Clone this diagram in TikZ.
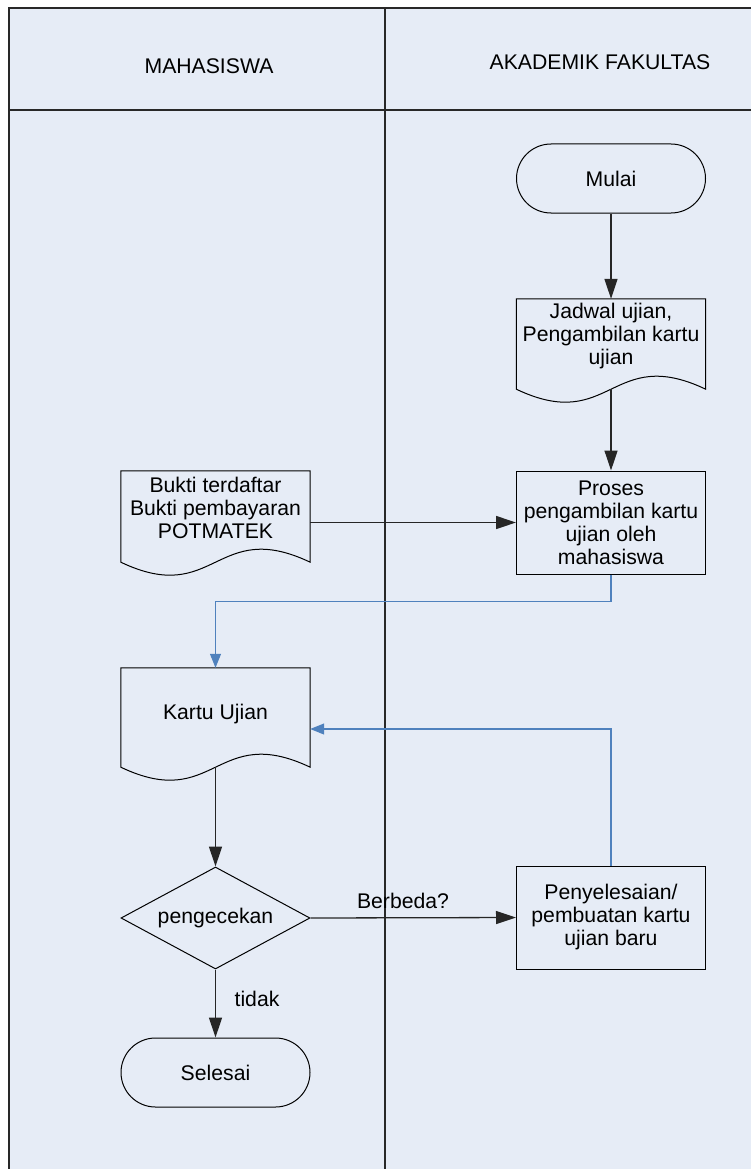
\documentclass[tikz,border=0pt]{standalone}
\usepackage{fontspec}
\setmainfont{Liberation Sans}
\usetikzlibrary{shapes.geometric,shapes.misc,arrows.meta,calc}
\definecolor{lanebg}{RGB}{230,236,246}
\definecolor{flowblue}{RGB}{79,129,189}
\definecolor{frameline}{RGB}{40,40,40}
\newcommand\flowdocshape[1]{%
  \draw[shapeline] (#1.south west) -- (#1.north west) -- (#1.north east) -- (#1.south east)
    .. controls ($(#1.south)+(0,-45)$) and ($(#1.south)+(0,45)$) .. (#1.south west) -- cycle;}
\begin{document}
\begin{tikzpicture}[x=1pt,y=-1pt,
  every node/.style={font=\fontsize{21.2}{23}\selectfont, align=center, inner sep=0pt},
  shapeline/.style={draw=black, line width=1pt},
  procbox/.style={shapeline, rectangle, minimum width=189pt, minimum height=103pt},
  docframe/.style={rectangle, minimum width=189pt},
  terminal/.style={shapeline, rounded rectangle, minimum width=189pt, minimum height=69pt},
  decision/.style={shapeline, diamond, aspect=1.853, minimum width=189pt, minimum height=102pt},
  flow/.style={draw=black!85, line width=1.3pt, -{Triangle[length=20pt,width=13pt]}},
  backflow/.style={draw=flowblue, line width=1.1pt, -{Triangle[length=14pt,width=11pt]}},
  laneline/.style={draw=frameline, line width=1.1pt}
]
\useasboundingbox (0,0) rectangle (751,1169);
\fill[white] (0,0) rectangle (751,1169);
\fill[lanebg] (9,8) rectangle (751,1169);
\draw[laneline] (751,8) -- (9,8) -- (9,1169);
\draw[laneline] (9,110) -- (751,110);
\draw[laneline] (385,8) -- (385,1169);

\node (hmhs) at (209,66) {MAHASISWA};
\node (hakad) at (600,62) {AKADEMIK FAKULTAS};

\node[terminal] (mulai) at (611,178.5) {Mulai};

\node[docframe, minimum height=90pt] (jadwal) at (611,344) {};
\flowdocshape{jadwal}
\node (jadwaltxt) at (611,336) {Jadwal ujian,\\Pengambilan kartu\\ujian};

\node[procbox] (proses) at (611,522.5) {Proses\\pengambilan kartu\\ujian oleh\\mahasiswa};

\node[docframe, minimum height=91pt] (bukti) at (215.5,516.5) {};
\flowdocshape{bukti}
\node (buktitxt) at (215.5,508) {Bukti terdaftar\\Bukti pembayaran\\POTMATEK};

\node[docframe, minimum height=99pt] (kartu) at (215.5,717.5) {};
\flowdocshape{kartu}
\node (kartutxt) at (215.5,714) {Kartu Ujian};

\node[decision] (cek) at (215.5,918) {pengecekan};
\node[procbox] (penyel) at (611,917.5) {Penyelesaian/\\pembuatan kartu\\ujian baru};
\node[terminal] (selesai) at (215.5,1072.5) {Selesai};

\draw[flow] (mulai.south) -- (jadwal.north);
\draw[flow] (jadwal.south) -- (proses.north);
\draw[flow] (bukti.east |- proses.west) -- (proses.west);
\draw[backflow] (proses.south) -- ++(0,27) -| (kartu.north);
\draw[backflow] (penyel.north) |- ($(kartu.east)+(0,11.5)$);
\draw[flow] (kartu.south) -- (cek.north);
\draw[flow] (cek.east) -- (penyel.west);
\node (lblberbeda) at (403,901) {Berbeda?};
\draw[flow] (cek.south) -- (selesai.north);
\node (lbltidak) at (257,999) {tidak};
\end{tikzpicture}
\end{document}
